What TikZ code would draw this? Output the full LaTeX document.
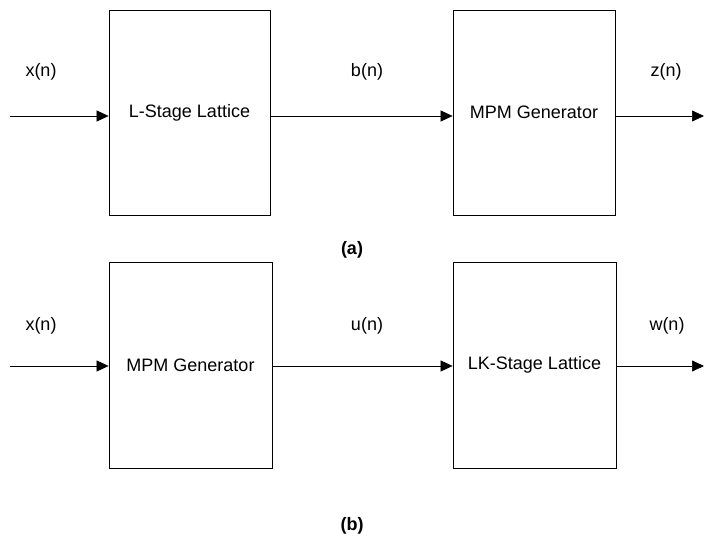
\documentclass[tikz,border=0pt]{standalone}
\usepackage{fontspec}
\setmainfont{Liberation Sans}
\usepackage{tikz}
\usetikzlibrary{arrows.meta}

\begin{document}
\begin{tikzpicture}[
  x=1pt,y=-1pt,
  blk/.style={draw,line width=0.8pt,inner sep=0pt,align=center,font=\fontsize{18}{21}\selectfont},
  arr/.style={-{Triangle[length=12pt,width=11pt]},line width=0.7pt},
  sig/.style={font=\fontsize{18}{21}\selectfont},
  sublabel/.style={font=\fontsize{18}{21}\selectfont\bfseries}]

  \useasboundingbox (0,0) rectangle (704,543);

  % (a)
  \node[blk,minimum width=161pt,minimum height=205pt] (latA) at (189.5,112.5) {L-Stage Lattice};
  \node[blk,minimum width=162pt,minimum height=205pt] (mpmA) at (534,112.5) {MPM Generator};
  \coordinate (inA)  at (10,116);
  \coordinate (outA) at (704,116);
  \draw[arr] (inA) -- (latA.west |- inA);
  \draw[arr] (latA.east |- inA) -- (mpmA.west |- inA);
  \draw[arr] (mpmA.east |- inA) -- (outA);
  \node[sig] (xA) at (41,72)  {x(n)};
  \node[sig] (bA) at (367,72) {b(n)};
  \node[sig] (zA) at (666,72) {z(n)};
  \node[sublabel] (capA) at (352,250) {(a)};

  % (b)
  \node[blk,minimum width=163pt,minimum height=206pt] (mpmB) at (190.5,365) {MPM Generator};
  \node[blk,minimum width=163pt,minimum height=206pt] (latB) at (534.5,365) {LK-Stage Lattice};
  \coordinate (inB)  at (10,366);
  \coordinate (outB) at (704,366);
  \draw[arr] (inB) -- (mpmB.west |- inB);
  \draw[arr] (mpmB.east |- inB) -- (latB.west |- inB);
  \draw[arr] (latB.east |- inB) -- (outB);
  \node[sig] (xB) at (41,326)  {x(n)};
  \node[sig] (uB) at (367,326) {u(n)};
  \node[sig] (wB) at (667,326) {w(n)};
  \node[sublabel] (capB) at (352,526) {(b)};
\end{tikzpicture}
\end{document}
